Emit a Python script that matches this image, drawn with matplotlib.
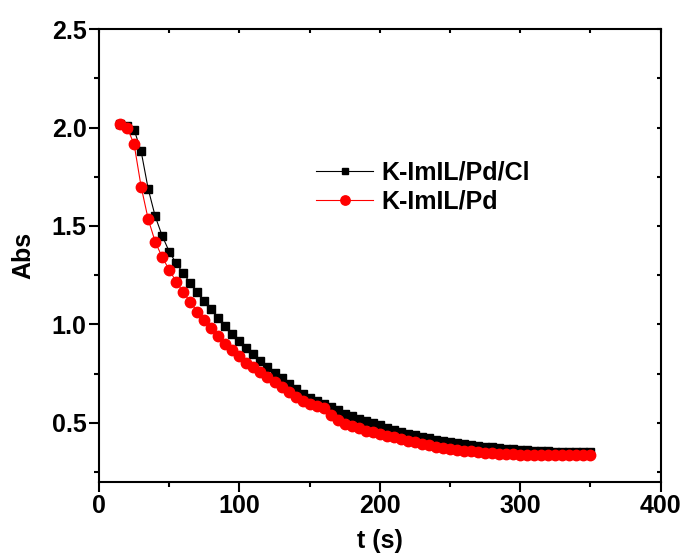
import matplotlib
matplotlib.use("Agg")
import matplotlib.pyplot as plt
from matplotlib.ticker import MultipleLocator

plt.rcParams["font.family"] = ["Liberation Sans", "DejaVu Sans"]
plt.rcParams["font.weight"] = "bold"

# time points (s)
t = [15, 20, 25, 30, 35, 40, 45, 50, 55, 60, 65, 70, 75, 80, 85, 90, 95, 100,
     105, 110, 115, 120, 125, 130, 135, 140, 145, 150, 155, 160, 165, 170, 175,
     180, 185, 190, 195, 200, 205, 210, 215, 220, 225, 230, 235, 240, 245, 250,
     255, 260, 265, 270, 275, 280, 285, 290, 295, 300, 305, 310, 315, 320, 325,
     330, 335, 340, 345, 350]

# K-ImIL/Pd/Cl
abs_pd_cl = [2.02, 2.01, 1.99, 1.88, 1.69, 1.55, 1.45, 1.37, 1.31, 1.26, 1.21,
             1.163, 1.12, 1.076, 1.032, 0.993, 0.952, 0.915, 0.88, 0.847, 0.814,
             0.784, 0.752, 0.725, 0.697, 0.67, 0.647, 0.628, 0.61, 0.595, 0.578,
             0.562, 0.546, 0.533, 0.519, 0.508, 0.497, 0.486, 0.474, 0.463,
             0.452, 0.443, 0.435, 0.428, 0.421, 0.414, 0.408, 0.402, 0.397,
             0.392, 0.387, 0.382, 0.378, 0.374, 0.371, 0.368, 0.365, 0.362,
             0.36, 0.358, 0.356, 0.355, 0.353, 0.352, 0.351, 0.35, 0.349, 0.349]

# K-ImIL/Pd
abs_pd = [2.02, 2.00, 1.916, 1.70, 1.536, 1.42, 1.342, 1.277, 1.217, 1.164,
          1.113, 1.065, 1.024, 0.982, 0.939, 0.902, 0.868, 0.837, 0.805, 0.781,
          0.757, 0.732, 0.705, 0.679, 0.655, 0.632, 0.611, 0.597, 0.587, 0.575,
          0.54, 0.512, 0.495, 0.483, 0.471, 0.46, 0.451, 0.442, 0.433, 0.425,
          0.416, 0.408, 0.4, 0.392, 0.385, 0.378, 0.372, 0.366, 0.362, 0.358,
          0.354, 0.35, 0.347, 0.344, 0.342, 0.34, 0.339, 0.338, 0.337, 0.336,
          0.336, 0.336, 0.336, 0.336, 0.336, 0.336, 0.336, 0.336]

fig = plt.figure(figsize=(6.86, 5.57), dpi=100)
ax = fig.add_axes([0.1443, 0.1352, 0.8188, 0.8122])

ax.plot(t, abs_pd_cl, color="black", marker="s", markersize=5.5, linewidth=0.8,
        label="K-ImIL/Pd/Cl")
ax.plot(t, abs_pd, color="red", marker="o", markersize=7.5, linewidth=0.8,
        label="K-ImIL/Pd")

ax.set_xlim(0, 400)
ax.set_ylim(0.2, 2.5)
ax.xaxis.set_major_locator(MultipleLocator(100))
ax.xaxis.set_minor_locator(MultipleLocator(50))
ax.yaxis.set_major_locator(MultipleLocator(0.5))
ax.yaxis.set_minor_locator(MultipleLocator(0.25))
ax.yaxis.set_major_formatter(plt.FormatStrFormatter("%.1f"))

for side in ax.spines.values():
    side.set_linewidth(1.5)

ax.tick_params(which="major", direction="out", length=7, width=1.5,
               labelsize=18, pad=2)
ax.tick_params(which="minor", direction="out", length=3.6, width=1.5)
ax.tick_params(which="both", top=True, right=True)
ax.tick_params(axis="x", which="both", top=True)
# mirrored ticks on top and right point inward
for tick in ax.xaxis.get_major_ticks() + ax.xaxis.get_minor_ticks():
    tick.tick2line.set_marker(3)
    tick.tick2line.set_markersize(3)
for tick in ax.yaxis.get_major_ticks() + ax.yaxis.get_minor_ticks():
    tick.tick2line.set_marker(0)
    tick.tick2line.set_markersize(3)

ax.set_xlabel("t (s)", fontsize=18, fontweight="bold")
ax.set_ylabel("Abs", fontsize=18, fontweight="bold")
ax.xaxis.set_label_coords(0.5, -0.105)
ax.yaxis.set_label_coords(-0.114, 0.5)

ax.legend(loc="center left", bbox_to_anchor=(0.4606, 0.664),
          bbox_transform=fig.transFigure, frameon=False, fontsize=18,
          handlelength=2.3, handletextpad=0.3, borderpad=0, borderaxespad=0,
          labelspacing=0.2, markerscale=0.9)

fig.savefig("out.png", dpi=100)
